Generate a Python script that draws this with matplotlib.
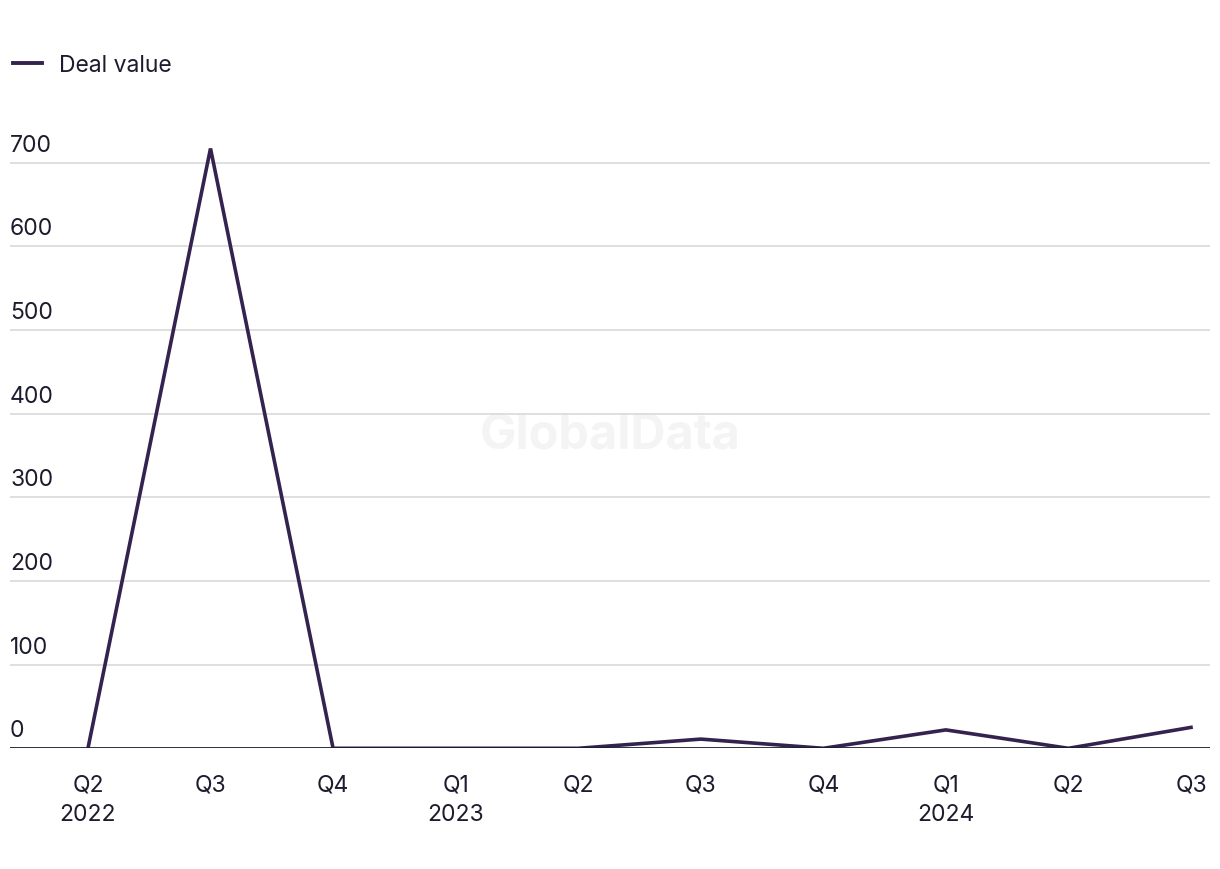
import matplotlib
matplotlib.use("Agg")
import matplotlib.pyplot as plt
from matplotlib.lines import Line2D

# Quarterly deal value
quarters = ["Q2", "Q3", "Q4", "Q1", "Q2", "Q3", "Q4", "Q1", "Q2", "Q3"]
years = ["2022", "", "", "2023", "", "", "", "2024", "", ""]
deal_value = [0, 717, 0, 0, 0, 11, 0, 22, 0, 25]
y_ticks = [0, 100, 200, 300, 400, 500, 600, 700]

line_color = "#35234f"
text_color = "#1c1c2e"

plt.rcParams["font.family"] = ["Inter", "DejaVu Sans"]

fig = plt.figure(figsize=(12.2, 8.7), dpi=100)
ax = fig.add_axes([10 / 1220, 1 - 749.3 / 870, 1200 / 1220, 627.4 / 870])

x = list(range(len(deal_value)))
ax.plot(x, deal_value, color=line_color, linewidth=2.6, solid_joinstyle="miter", zorder=3)

ax.set_xlim(-0.636, 9.155)
ax.set_ylim(0, 750)

# gridlines + y labels sitting above them
for v in y_ticks:
    if v == 0:
        ax.axhline(v, color=text_color, linewidth=2.0, zorder=4)
    else:
        ax.axhline(v, color="#d9d9d9", linewidth=1.2, zorder=1)
    ax.annotate(str(v), xy=(0, v), xycoords=("axes fraction", "data"),
                xytext=(0, 5), textcoords="offset points",
                ha="left", va="bottom", fontsize=16.5, color=text_color)

ax.set_yticks([])
ax.set_xticks(x)
ax.set_xticklabels([f"{q}\n{y}" if y else q for q, y in zip(quarters, years)],
                   fontsize=16.5, color=text_color, linespacing=1.45, va="top")
ax.tick_params(axis="x", length=0, pad=18)
for s in ax.spines.values():
    s.set_visible(False)

# watermark
ax.text(0.5, 0.499, "GlobalData", transform=fig.transFigure, ha="center", va="center",
        fontsize=35, fontweight="bold", color="#f4f4f4", zorder=0)

# legend
handle = Line2D([], [], color=line_color, linewidth=2.8)
fig.legend([handle], ["Deal value"], loc="upper left", bbox_to_anchor=(-0.0065, 0.961),
           frameon=False, fontsize=16.5, handlelength=1.3, handletextpad=0.7,
           labelcolor=text_color)

fig.savefig("out.png", dpi=100)
